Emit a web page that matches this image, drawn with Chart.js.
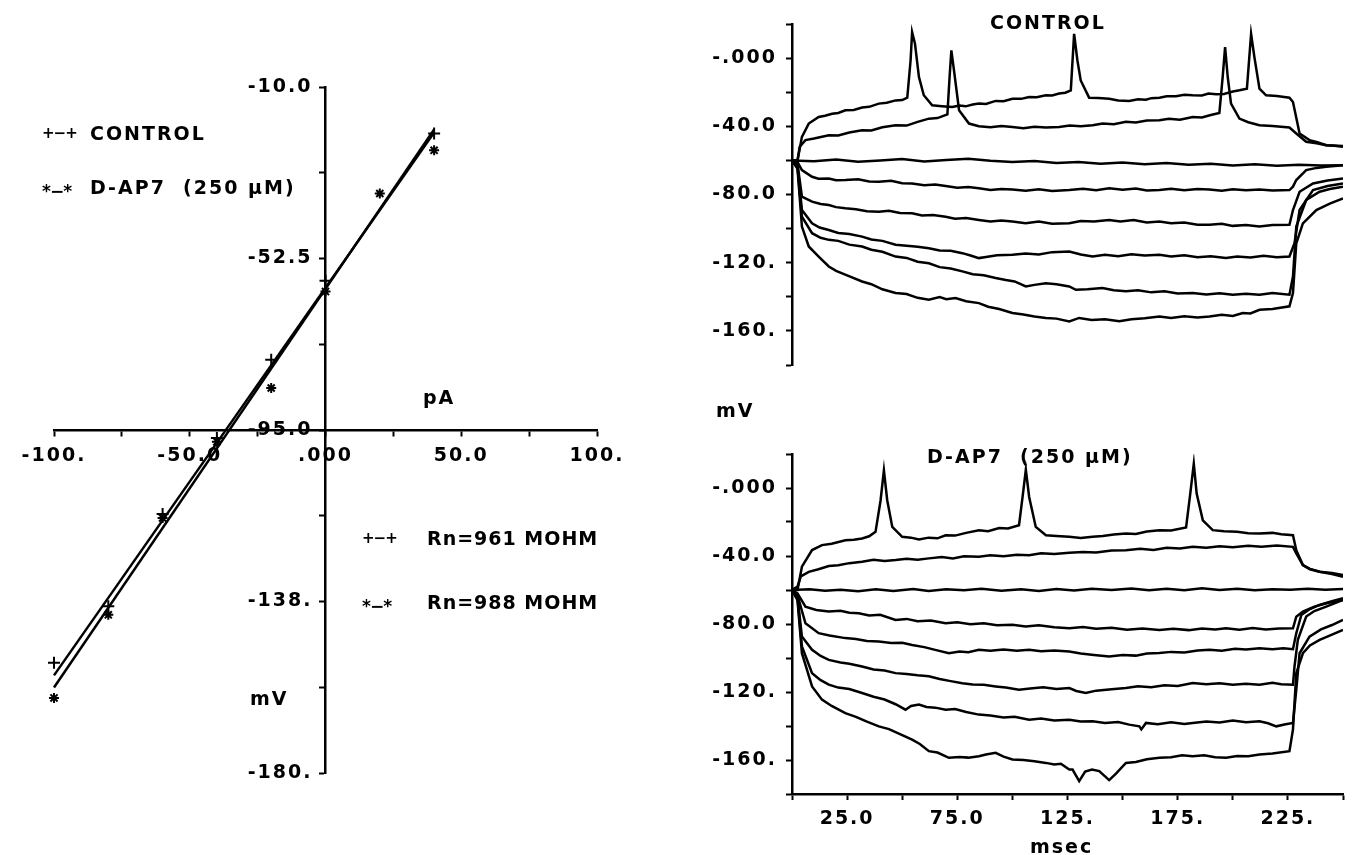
<!DOCTYPE html>
<html lang="en">
<head>
<meta charset="UTF-8">
<title>D-AP7 current-voltage relation</title>
<script src="https://cdn.jsdelivr.net/npm/chart.js"></script>
<style>
  body { margin: 0; width: 1358px; height: 855px; background: #fff; position: relative; overflow: hidden;
         font-family: "DejaVu Sans", sans-serif; font-weight: bold; font-size: 19px; color: #000; }
  canvas { position: absolute; }
  .lbl { position: absolute; white-space: pre; letter-spacing: 2px; line-height: 1; transform: translateY(-50%); }
  .mk { position: absolute; white-space: pre; font-size: 15px; letter-spacing: -1px; line-height: 1; transform: translateY(-50%); }
</style>
</head>
<body>
<canvas id="ivChart" width="640" height="855" style="left:0;top:0"></canvas>
<canvas id="ctrlChart" width="698" height="400" style="left:660px;top:0"></canvas>
<canvas id="dapChart" width="698" height="435" style="left:660px;top:420px"></canvas>

<!-- legend and axis names of the I-V plot -->
<div class="mk" style="left:42px;top:133px">+−+</div>
<div class="lbl" style="left:90px;top:133px">CONTROL</div>
<div class="mk" style="left:42px;top:191px;font-size:17px">*−*</div>
<div class="lbl" style="left:90px;top:187px">D-AP7  (250 µM)</div>
<div class="mk" style="left:362px;top:538px">+−+</div>
<div class="lbl" style="left:427px;top:538px;letter-spacing:1px">Rn=961 MOHM</div>
<div class="mk" style="left:362px;top:606px;font-size:17px">*−*</div>
<div class="lbl" style="left:427px;top:602px;letter-spacing:1px">Rn=988 MOHM</div>
<div class="lbl" style="left:423px;top:397px">pA</div>
<div class="lbl" style="left:250px;top:698px">mV</div>
<!-- titles of the voltage traces -->
<div class="lbl" style="left:990px;top:22px">CONTROL</div>
<div class="lbl" style="left:927px;top:456px">D-AP7  (250 µM)</div>
<div class="lbl" style="left:716px;top:410px">mV</div>
<div class="lbl" style="left:1030px;top:846px">msec</div>

<script>
// ---- I-V plot (current in pA, membrane potential in mV)
const ivCurrentControl = [-100, -80, -60, -40, -20, 0, 40];
const ivControl = [-152.7, -138.7, -115.8, -97.0, -77.6, -58.0, -21.5];
const ivCurrentDap7 = [-100, -80, -60, -40, -20, 0, 20, 40];
const ivDap7 = [-161.4, -140.8, -116.8, -97.9, -84.6, -60.7, -36.4, -25.7];
const fitCurrent = [-100, 40];
const fitControl = [-155.8, -21.3];
const fitDap7 = [-158.8, -20.5];

const ivXTicks = [-100, -75, -50, -25, 0, 25, 50, 75, 100];
const ivXTickLabels = ['-100.', '', '-50.0', '', '.000', '', '50.0', '', '100.'];
const ivYTicks = [-10, -31.25, -52.5, -73.75, -95, -116.25, -137.5, -158.75, -180];
const ivYTickLabels = ['-10.0', '', '-52.5', '', '-95.0', '', '-138.', '', '-180.'];

// ---- voltage traces, [msec, mV]
const traceXTicks = [0, 25, 50, 75, 100, 125, 150, 175, 200, 225, 250];
const traceXTickLabels = ['', '25.0', '', '75.0', '', '125.', '', '175.', '', '225.', ''];
const traceYTicks = [20, 0, -20, -40, -60, -80, -100, -120, -140, -160, -180];
const traceYTickLabels = ['', '-.000', '', '-40.0', '', '-80.0', '', '-120.', '', '-160.', ''];

const ctrlTrace1 = [[0,-60],[2.5,-60],[4.5,-46.2],[7.6,-38.4],[12.1,-34.5],[15,-33.8],[18.2,-32.6],[21,-32.2],
  [24.2,-30.6],[28,-30.4],[31.8,-29],[35,-28.6],[39.4,-26.7],[43,-26.2],[47,-24.8],[50,-24.6],[52.3,-23.2],
  [53.8,-1.4],[54.5,15.2],[55.8,8.4],[57.6,-11.1],[59.8,-21.8],[63.6,-27.7],[68,-28.2],[72.7,-28.7],[76,-27.8],
  [78.8,-28.3],[82,-27.2],[84.8,-26.7],[88,-26.9],[92.4,-25.1],[96,-25.3],[100,-23.8],[104,-23.9],[107.6,-22.8],
  [111,-22.9],[115.2,-21.8],[118,-21.9],[121.2,-20.8],[124,-20.3],[126.5,-18.9],[128,14.2],[129.5,-1.4],
  [131,-13.1],[134.8,-23.2],[139,-23.4],[143.9,-23.8],[148,-24.9],[153,-25.1],[157,-24.1],[160.6,-24.4],
  [163,-23.5],[166.7,-23.2],[170,-22.4],[174.2,-22.4],[178,-21.5],[181.8,-21.8],[186,-21.9],[189,-20.8],
  [192.4,-21.2],[196,-21],[200,-19.6],[203,-18.9],[206.4,-17.9],[208.3,14.2],[209.8,0.6],[212.1,-17.9],
  [215.1,-21.8],[220,-22.2],[225.7,-23.2],[227.3,-25.8],[230.3,-44.2],[234.8,-48.1],[238,-49.2],[242.4,-51.1],
  [246,-51.4],[250,-52]];
const ctrlTrace2 = [[0,-60],[2.5,-60],[3.5,-52],[6.1,-48.1],[10,-47.2],[16.7,-45.2],[21,-45.4],[26,-43.6],
  [31.8,-42.3],[36,-42.5],[41,-40.6],[47,-39.4],[52,-39.6],[57,-37.4],[62.1,-35.5],[66,-35.2],[70.5,-33],
  [71.5,-11.1],[72.3,4.5],[73.5,-7.2],[75.8,-30.6],[80.3,-38.4],[84.8,-40],[90,-40.6],[95,-39.8],[100,-40.4],
  [105,-41.2],[110,-40.2],[115.2,-40.7],[121.2,-40.4],[126,-39.6],[131,-40],[136.4,-39.4],[141,-38.4],
  [146,-38.8],[151.5,-37.4],[156,-37.8],[161,-36.6],[166.7,-36.5],[171,-35.6],[176,-36.2],[181.8,-34.5],
  [186,-34.8],[190,-33.4],[193.9,-32.2],[195.4,-11.1],[196.5,6.4],[197.7,-11.1],[199.2,-26.7],[203,-35.5],
  [207,-37.6],[212.1,-39.4],[218,-39.8],[225.7,-40.7],[228.8,-44.2],[233.3,-49.1],[238,-50],[242.4,-51.1],[250,-51.6]];
const ctrlTrace3 = [[0,-60],[10,-60.5],[20,-59.5],[30,-60.8],[40,-60],[50,-59.2],[60,-60.6],[70,-59.8],[80,-59],
  [90,-60.2],[100,-61],[110,-60.4],[120,-61.5],[130,-61],[140,-62],[150,-61.2],[160,-62.3],[170,-61.5],[180,-62.5],
  [190,-62],[200,-63],[210,-62.2],[220,-63.2],[230,-62.5],[240,-63],[250,-62.8]];
const ctrlTrace4 = [[0,-60],[2.5,-61],[4.5,-65.7],[9.1,-69.6],[12,-70.8],[16.7,-70.6],[20,-71.6],[24.2,-71.5],
  [30,-71],[35,-72.4],[39.4,-72.5],[45,-72],[50,-73.4],[54.5,-73.5],[60,-74.6],[65,-74.2],[69.7,-75],[75,-76],
  [80,-75.6],[84.8,-76.4],[90,-77.4],[95,-76.8],[100,-77],[106,-77.8],[112,-76.9],[118,-77.9],[125.8,-77.4],
  [132,-76.6],[138,-77.5],[143.9,-76.4],[150,-77.2],[156,-76.5],[161,-77.6],[166.7,-77.4],[172,-76.6],[178,-77.5],
  [184,-76.8],[189.4,-77],[195,-77.8],[200,-76.9],[206,-77.5],[212.1,-77],[218,-77.7],[225.7,-77.4],[227.3,-75.4],
  [228.8,-71.5],[233.3,-65.7],[238,-64.4],[242.4,-63.7],[250,-62.8]];
const ctrlTrace5 = [[0,-60],[2.5,-62],[4.5,-81.3],[9.1,-84.2],[13,-85.6],[16.7,-86.2],[20,-87.4],[24.2,-88.1],
  [29,-88.6],[34,-89.8],[39.4,-90.1],[44,-89.6],[49,-90.8],[54.5,-91],[59,-92.3],[64,-92],[69.7,-93],[74,-94.2],
  [79,-93.8],[84.8,-94.9],[90,-95.8],[95,-95.2],[100,-95.9],[106,-96.8],[112,-95.9],[118,-97.2],[125.8,-96.9],
  [131,-95.6],[137,-95.9],[143.9,-94.9],[149,-95.8],[155,-95],[161,-96.4],[166.7,-95.9],[172,-96.8],[178,-96.4],
  [184,-97.8],[189.4,-97.8],[195,-97.2],[200,-98.4],[206,-97.9],[212.1,-98.8],[218,-97.9],[225.7,-97.8],
  [227.3,-89.1],[230.3,-78.4],[236.4,-73.5],[243,-71.8],[250,-70.6]];
const ctrlTrace6 = [[0,-60],[2.5,-63],[4.5,-89.1],[9.1,-96.9],[12.5,-99.4],[16.7,-100.8],[21,-102.6],[26,-103.2],
  [31.8,-104.7],[36,-106.4],[41,-107.2],[47,-109.5],[52,-110],[57,-110.6],[62.1,-111.5],[67,-112.8],[72,-113],
  [77.3,-114.4],[81,-115.8],[84.8,-117.3],[88,-116.6],[93,-115.6],[100,-115.4],[106,-114.6],[112,-115.2],
  [118,-113.8],[125.8,-113.4],[131,-115.2],[136.4,-116.4],[142,-115.4],[148,-116.2],[154,-115],[160,-115.8],
  [166.7,-115.4],[172,-116.3],[178,-115.6],[184,-116.8],[190,-116.2],[196.9,-117.3],[202,-116.4],[208,-117],
  [214,-116],[220,-116.8],[225.7,-116.4],[228,-108.6],[230.3,-89.1],[236.4,-77.4],[243,-75],[250,-73.5]];
const ctrlTrace7 = [[0,-60],[2.5,-64],[4.5,-93],[9.1,-102.7],[13,-105.4],[16.7,-106.6],[21,-107.2],[26,-109.4],
  [31.8,-110.5],[36,-112.4],[41,-113.6],[47,-116.4],[52,-117.2],[57,-119.4],[62.1,-120.3],[67,-122.6],[72,-123.4],
  [77.3,-125.1],[82,-126.8],[87,-127.4],[92.4,-129],[97,-130.2],[101,-131],[106.1,-133.9],[110,-133],[115.2,-132],
  [120,-132.6],[125.8,-133.9],[128.8,-135.9],[134,-135.6],[140.9,-134.9],[146,-136.2],[151.5,-136.8],[157,-136.2],
  [163,-137.4],[169,-136.8],[175,-138],[181.8,-137.8],[188,-138.6],[194,-137.9],[200,-138.8],[206,-138.2],
  [212.1,-138.8],[218,-137.8],[225.7,-138.8],[227.3,-128.1],[228.8,-98.8],[233.3,-83.2],[239.4,-78.4],
  [244,-76.8],[250,-75.4]];
const ctrlTrace8 = [[0,-60],[2.5,-65],[4.5,-98.8],[7.6,-110.5],[12.1,-116.4],[16.7,-122.2],[20,-124.8],[25,-127.4],
  [31.8,-131],[36,-132.6],[41,-135.6],[47,-137.8],[52,-138.4],[57,-140.6],[62.1,-141.7],[67,-140.2],[70,-141.4],
  [74.2,-140.7],[79,-142.6],[84.8,-143.7],[89,-145.8],[94,-147.2],[100,-149.5],[105,-150.4],[110,-151.6],
  [115.2,-152.4],[120,-152.8],[125.8,-154.4],[130.3,-152.4],[136,-153.6],[142,-153.2],[148.5,-154.4],[154,-153.2],
  [160,-152.6],[166.7,-151.5],[172,-152.4],[178,-151.4],[184,-152.2],[189.4,-151.5],[195,-150.6],[200,-151.2],
  [204.5,-149.5],[208,-149.8],[212.1,-147.6],[218,-147.2],[225.7,-145.6],[227.3,-137.8],[228.8,-108.6],
  [231.8,-96.9],[237.9,-89.1],[244,-85.4],[250,-82.3]];

const dapTrace1 = [[0,-60],[2.5,-60],[4.5,-46.3],[9.1,-36.5],[13.6,-33.6],[18,-32.8],[24.2,-30.7],[28,-30.4],
  [31.8,-29.7],[35,-28.4],[37.9,-25.8],[40.2,-7.2],[41.7,10.4],[43.2,-7.2],[45.5,-22.9],[50,-28.7],[54,-29.2],
  [57.6,-30.3],[62,-29.2],[66,-29.6],[69.7,-27.8],[74,-28],[79,-26.4],[84.8,-24.8],[89,-25.4],[94,-23.6],
  [98,-23.8],[103,-21.9],[104.8,-3.3],[106.1,10.8],[107.6,-5.3],[110.6,-22.9],[115.2,-27.8],[120,-28.2],
  [125.8,-28.7],[131,-29.4],[136.4,-28.7],[141,-28.2],[146,-27.4],[151.5,-26.8],[156,-27],[161,-25.6],
  [166.7,-24.8],[172,-25],[178.8,-23.2],[180.7,-3.3],[182.3,14.3],[183.6,-3.3],[186.4,-19],[190.9,-24.8],
  [196,-25.4],[202,-25.8],[207,-26.6],[212.1,-26.8],[218,-26.4],[222,-27.2],[227.3,-27.8],[228.8,-36.6],
  [231.8,-45.3],[235,-47.8],[239.4,-49.3],[245,-50.6],[250,-52.2]];
const dapTrace2 = [[0,-60],[2.5,-58],[4,-52],[7.6,-49.3],[12,-47.8],[16.7,-45.9],[21,-45.4],[26,-44.2],
  [31.8,-43.4],[37,-42.2],[42,-43],[47,-42.4],[52,-41.6],[57,-42.2],[62.1,-41.4],[68,-40.6],[73,-41.4],[78,-40.2],
  [84.8,-40.4],[90,-39.6],[96,-40.2],[102,-39.2],[107.6,-39.5],[113,-38.4],[119,-38.8],[125.8,-38.1],[132,-37.6],
  [138,-38],[145,-36.8],[151.5,-36.6],[158,-35.8],[164,-36.4],[170,-35.2],[176,-35.6],[181.8,-34.6],[188,-35.2],
  [194,-34.2],[200,-34.8],[207,-34],[213,-34.6],[220,-33.8],[227.3,-34.6],[228.8,-38.5],[231.8,-45.3],
  [235,-47.6],[239.4,-49.3],[245,-50],[250,-51.2]];
const dapTrace3 = [[0,-60],[8,-59.5],[15,-60.5],[22,-59.8],[30,-60.8],[38,-59.6],[46,-60.6],[55,-59.4],[62,-60.6],
  [70,-59.5],[78,-60.2],[86,-59.2],[95,-60.4],[104,-59.5],[112,-60.6],[120,-59.4],[128,-60.3],[136,-59.2],[145,-60],
  [154,-59.1],[162,-60.2],[170,-59.3],[178,-60.1],[186,-59],[194,-60],[202,-59.3],[210,-60.2],[218,-59.5],[226,-59.8],
  [234,-59.2],[242,-59.8],[250,-59.4]];
const dapTrace4 = [[0,-60],[2.5,-62],[6.1,-69.8],[11,-71.8],[16.7,-72.7],[22,-72.2],[26,-73.4],[30.3,-73.7],
  [35,-75],[40,-74.6],[47,-77.6],[52,-77],[57,-78.4],[63,-78],[69.7,-79.6],[75,-79],[81,-80.2],[87,-79.6],
  [93,-80.8],[100,-80.5],[106,-81.4],[112,-80.8],[119,-81.9],[125.8,-82.5],[132,-81.8],[138,-82.8],[145,-82.2],
  [152,-83.4],[159,-82.6],[166.7,-83.5],[173,-82.8],[180,-83.6],[186,-82.6],[192,-83.2],[196.9,-82.5],[203,-83.4],
  [209,-82.4],[215,-83.2],[221,-82.6],[227.3,-82.5],[228.8,-75.7],[231.8,-72.7],[237,-69.8],[242.4,-67.8],[250,-65.9]];
const dapTrace5 = [[0,-60],[2.5,-63],[6.1,-79.6],[12.1,-85.4],[17,-86.8],[24.2,-88.3],[29,-88.8],[34,-90],
  [39.4,-90.3],[45,-91.2],[50,-91],[54.5,-92.3],[60,-93.6],[65,-95.2],[71.2,-97.2],[76,-96.2],[80,-96.6],
  [84.8,-95.2],[90,-95.8],[96,-95],[102,-95.8],[107.6,-95.2],[113,-96],[119,-95.6],[125.8,-96.2],[131,-97.4],
  [137,-98.2],[143.9,-99.1],[150,-98.2],[156,-98.6],[161,-97.4],[166.7,-97.1],[172,-96.4],[178,-96.8],[184,-95.6],
  [189.4,-95.2],[195,-95.8],[201,-94.6],[206,-95],[212.1,-94.2],[218,-94.8],[223,-94.2],[227.3,-94.8],
  [228.8,-85.4],[231.1,-74.7],[235,-71.2],[239.4,-68.8],[245,-66.6],[250,-64.9]];
const dapTrace6 = [[0,-60],[2.5,-64],[4.5,-87.4],[9.1,-95.2],[13,-98.8],[16.7,-101.1],[22,-102.6],[26,-103.4],
  [31.8,-105],[37,-106.8],[42,-107.4],[47,-108.9],[52,-109.4],[57,-110.2],[62.1,-110.8],[67,-112.4],[72,-113.6],
  [77.3,-114.8],[82,-115.6],[87,-115.8],[92.4,-116.7],[97,-117.4],[103,-118.6],[108,-118],[114,-117.2],
  [120,-118.2],[125.8,-117.7],[129,-119.4],[133.3,-120.6],[138,-119.2],[145,-118.4],[151.5,-117.7],[157,-116.6],
  [163,-117.2],[169,-116],[175,-116.4],[181.8,-114.7],[188,-115.4],[194,-114.8],[200,-115.8],[206,-115.2],
  [212.1,-115.7],[218,-114.6],[222,-115.4],[227.3,-115.7],[228,-105],[229.5,-89.3],[233.3,-75.6],[237,-72.4],
  [242.4,-69.8],[250,-65.9]];
const dapTrace7 = [[0,-60],[2.5,-65],[4.5,-93.2],[9.1,-108.9],[13,-113],[16.7,-115.7],[21,-117.4],[26,-118.2],
  [31.8,-120.6],[37,-122.8],[42,-124.4],[47,-127.2],[51.5,-130.4],[54,-128.2],[57.6,-127.4],[61,-128.8],
  [65,-129.2],[69.7,-130.4],[74,-130],[79,-131.8],[84.8,-133.3],[90,-133.8],[96,-135],[101,-134.6],[107.6,-136.3],
  [113,-135.6],[119,-136.8],[125.8,-136.3],[131,-137.4],[136.4,-137.2],[142,-138.2],[148,-137.6],[153,-139.2],
  [157.6,-140.2],[158.5,-142],[160.6,-138.2],[166,-139],[172,-137.8],[178,-138.8],[181.8,-138.2],[188,-137.4],
  [194,-138],[200,-136.8],[206,-137.8],[212.1,-137.2],[216,-138.4],[219.7,-140.2],[224,-139],[227.3,-138.2],
  [228.8,-118.7],[230.3,-97.2],[234.8,-87.4],[240,-83.2],[245,-80.6],[250,-77.6]];
const dapTrace8 = [[0,-60],[2.5,-66],[4.5,-97.2],[9.1,-116.7],[13.6,-124.5],[18,-128.2],[24.2,-132.4],[29,-134.6],
  [34,-137.4],[39.4,-140.2],[44,-141.8],[49,-144.8],[54.5,-148],[58,-150.6],[62.1,-154.8],[66,-155.6],
  [71.2,-158.7],[76,-158.2],[80,-158.6],[84.8,-157.8],[88,-156.8],[92.4,-155.8],[96,-158],[100,-159.7],
  [105,-160],[110,-160.8],[115.2,-161.7],[119,-162.6],[122,-162.2],[125.8,-165.6],[127.3,-165.6],[130.3,-172.4],
  [133,-166.8],[136.1,-165.6],[139.4,-166.5],[143.9,-171.8],[147,-168],[151.5,-161.7],[156,-161.2],[161,-159.6],
  [166.7,-158.7],[172,-158.4],[177,-157.2],[181.8,-157.8],[187,-157.2],[192,-158.4],[196.9,-158.7],[202,-157.6],
  [207,-157.8],[212.1,-156.8],[218,-156.2],[225.7,-154.8],[227.3,-142.1],[228.8,-108.9],[231.8,-97.2],
  [235,-92.6],[239.4,-89.3],[245,-86.2],[250,-83.5]];

const ctrlTraces = [ctrlTrace1, ctrlTrace2, ctrlTrace3, ctrlTrace4, ctrlTrace5, ctrlTrace6, ctrlTrace7, ctrlTrace8];
const dapTraces = [dapTrace1, dapTrace2, dapTrace3, dapTrace4, dapTrace5, dapTrace6, dapTrace7, dapTrace8];

const plotFont = { family: '"DejaVu Sans", sans-serif', weight: 'bold', size: 19 };

// plotter style lettering on the canvases
const plotterText = {
  id: 'plotterText',
  beforeUpdate(chart) { chart.ctx.letterSpacing = '2px'; },
  beforeDraw(chart) { chart.ctx.letterSpacing = '2px'; }
};

// the mV labels of the I-V plot sit left of the crossing y axis
const ivYLabels = {
  id: 'ivYLabels',
  afterDraw(chart) {
    const ctx = chart.ctx;
    const yScale = chart.scales.y;
    const axisX = chart.scales.x.getPixelForValue(0);
    ctx.save();
    ctx.font = 'bold 19px "DejaVu Sans", sans-serif';
    ctx.letterSpacing = '2px';
    ctx.textAlign = 'right';
    ctx.textBaseline = 'middle';
    ctx.fillStyle = '#000';
    ivYTicks.forEach((v, i) => {
      if (ivYTickLabels[i]) ctx.fillText(ivYTickLabels[i], axisX - 13, yScale.getPixelForValue(v));
    });
    ctx.restore();
  }
};

function fixedTicks(values) {
  return scale => { scale.ticks = values.map(v => ({ value: v })); };
}

function axisStyle(tickLength) {
  return {
    border: { display: true, color: '#000', width: 2.5 },
    grid: { display: true, drawOnChartArea: false, drawTicks: true, tickLength: tickLength, tickWidth: 2, tickColor: '#000' }
  };
}

// I-V plot with the axes crossing at (0 pA, -95 mV)
new Chart(document.getElementById('ivChart'), {
  type: 'scatter',
  data: {
    datasets: [
      { data: fitCurrent.map((x, i) => ({ x: x, y: fitControl[i] })), showLine: true, borderColor: '#000', borderWidth: 2.5, pointRadius: 0, clip: false },
      { data: fitCurrent.map((x, i) => ({ x: x, y: fitDap7[i] })), showLine: true, borderColor: '#000', borderWidth: 2.5, pointRadius: 0, clip: false },
      { data: ivCurrentControl.map((x, i) => ({ x: x, y: ivControl[i] })), pointStyle: 'cross', pointRadius: 6, borderColor: '#000', borderWidth: 2, clip: false },
      { data: ivCurrentDap7.map((x, i) => ({ x: x, y: ivDap7[i] })), pointStyle: 'star', pointRadius: 5, borderColor: '#000', borderWidth: 2, clip: false }
    ]
  },
  options: {
    responsive: false,
    animation: false,
    devicePixelRatio: 1,
    layout: { padding: { left: 54, right: 43, top: 87, bottom: 82 } },
    plugins: { legend: { display: false }, tooltip: { enabled: false } },
    scales: {
      x: Object.assign({
        type: 'linear', min: -100, max: 100, position: { y: -95 },
        afterBuildTicks: fixedTicks(ivXTicks),
        ticks: { autoSkip: false, maxRotation: 0, color: '#000', font: plotFont, padding: 10,
                 callback: (v, i) => ivXTickLabels[i] }
      }, axisStyle(5)),
      y: Object.assign({
        type: 'linear', min: -180, max: -10, position: { x: 0 },
        afterBuildTicks: fixedTicks(ivYTicks),
        ticks: { display: false }
      }, axisStyle(5))
    }
  },
  plugins: [plotterText, ivYLabels]
});

function traceChart(canvasId, traces, showTimeAxis, padding) {
  return new Chart(document.getElementById(canvasId), {
    type: 'scatter',
    data: {
      datasets: traces.map(tr => ({
        data: tr, showLine: true, borderColor: '#000', borderWidth: 2.5, pointRadius: 0, tension: 0
      }))
    },
    options: {
      responsive: false,
      animation: false,
      devicePixelRatio: 1,
      layout: { padding: padding },
      plugins: { legend: { display: false }, tooltip: { enabled: false } },
      scales: {
        x: Object.assign({
          type: 'linear', min: 0, max: 250, display: showTimeAxis,
          afterBuildTicks: fixedTicks(traceXTicks),
          afterFit: s => { if (showTimeAxis) s.height = 61; },
          ticks: { autoSkip: false, maxRotation: 0, color: '#000', font: plotFont, padding: 8,
                   callback: (v, i) => traceXTickLabels[i] }
        }, axisStyle(6)),
        y: Object.assign({
          type: 'linear', min: -180, max: 20,
          afterBuildTicks: fixedTicks(traceYTicks),
          afterFit: s => { s.width = 132; },
          ticks: { autoSkip: false, color: '#000', font: plotFont, padding: 9,
                   callback: (v, i) => traceYTickLabels[i] }
        }, axisStyle(6))
      }
    },
    plugins: [plotterText]
  });
}

traceChart('ctrlChart', ctrlTraces, false, { left: 0, right: 15, top: 24, bottom: 35 });
traceChart('dapChart', dapTraces, true, { left: 0, right: 15, top: 34, bottom: 0 });
</script>
</body>
</html>
